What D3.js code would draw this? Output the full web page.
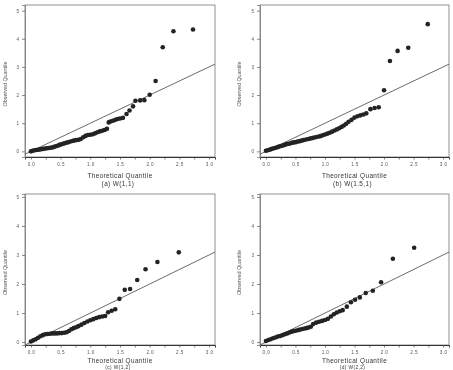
<!DOCTYPE html>
<html><head><meta charset="utf-8">
<script src="https://cdn.jsdelivr.net/npm/d3@7"></script>
<style>
html,body{margin:0;padding:0;background:#fff;}
svg{display:block;}
text{font-family:"Liberation Sans",Arial,sans-serif;}
</style></head>
<body>
<svg id="chart" width="453" height="370"></svg>
<script>
// ---- data ----
const xTickValues = [0, 0.5, 1.0, 1.5, 2.0, 2.5, 3.0];
const xTickLabels = ["0.0", "0.5", "1.0", "1.5", "2.0", "2.5", "3.0"];
const xMinorTicks = [0.25, 0.75, 1.25, 1.75, 2.25, 2.75];
const yTickValues = [0, 1, 2, 3, 4, 5];
const yTickLabels = ["0", "1", "2", "3", "4", "5"];
const xTitle = "Theoretical Quantile";
const yTitle = "Observed Quantile";
const subtitles = ["(a) W(1,1)", "(b) W(1.5,1)", "(c) W(1,2)", "(d) W(2,2)"];

const aTheoretical = [0.00,0.03,0.06,0.09,0.12,0.15,0.18,0.21,0.24,0.27,0.30,0.33,0.36,0.39,0.42,0.45,0.48,0.51,0.54,0.57,0.60,
  0.64,0.68,0.72,0.76,0.80,0.84,0.88,0.92,0.96,1.00,1.04,1.08,1.12,1.16,1.20,1.24,1.28,
  1.31,1.34,1.38,1.42,1.46,1.50,1.55,
  1.61,1.66,1.72,1.76,1.84,1.91,2.00,2.10,2.22,2.40,2.73];
const aObserved = [0.00,0.02,0.04,0.05,0.06,0.07,0.08,0.09,0.10,0.11,0.12,0.13,0.14,0.16,0.18,0.20,0.23,0.25,0.27,0.29,0.31,
  0.33,0.36,0.38,0.40,0.41,0.44,0.50,0.55,0.58,0.59,0.61,0.64,0.68,0.71,0.73,0.76,0.80,
  1.03,1.06,1.09,1.12,1.15,1.17,1.19,
  1.33,1.45,1.60,1.80,1.81,1.82,2.01,2.50,3.70,4.27,4.33];

const bTheoretical = [0.00,0.03,0.06,0.09,0.12,0.15,0.18,0.21,0.24,0.27,0.30,0.33,0.36,0.39,0.42,0.45,0.48,0.51,0.54,0.57,0.60,
  0.64,0.68,0.72,0.76,0.80,0.84,0.88,0.92,0.96,1.00,1.04,1.08,1.12,1.16,1.20,1.24,1.28,
  1.32,1.36,1.40,1.45,1.50,1.55,1.60,1.65,1.70,
  1.77,1.84,1.91,2.00,2.10,2.23,2.41,2.74];
const bObserved = [0.02,0.04,0.06,0.08,0.10,0.12,0.14,0.16,0.18,0.20,0.22,0.24,0.26,0.27,0.29,0.31,0.32,0.33,0.35,0.36,0.38,
  0.40,0.42,0.44,0.46,0.48,0.50,0.52,0.54,0.57,0.60,0.63,0.66,0.70,0.74,0.78,0.82,0.87,
  0.92,0.98,1.05,1.12,1.20,1.25,1.28,1.31,1.35,
  1.50,1.54,1.57,2.17,3.21,3.57,3.68,4.52];

const cTheoretical = [0.00,0.04,0.08,0.12,0.16,0.20,0.24,0.28,0.32,0.36,0.40,0.44,0.48,0.52,0.56,0.60,0.64,0.68,0.72,0.76,0.80,
  0.85,0.90,0.95,1.00,1.05,1.10,1.15,1.20,1.25,1.30,
  1.36,1.42,1.49,1.58,1.67,1.79,1.93,2.13,2.49];
const cObserved = [0.02,0.06,0.10,0.15,0.20,0.24,0.27,0.28,0.29,0.30,0.30,0.30,0.31,0.31,0.32,0.34,0.38,0.44,0.48,0.51,0.55,
  0.60,0.66,0.71,0.75,0.79,0.83,0.86,0.88,0.90,1.03,
  1.08,1.13,1.49,1.80,1.83,2.14,2.51,2.76,3.09];

const dTheoretical = [0.00,0.04,0.08,0.12,0.16,0.20,0.24,0.28,0.32,0.36,0.40,0.44,0.48,0.52,0.56,0.60,0.64,0.68,0.72,0.76,0.80,
  0.85,0.90,0.95,1.00,1.05,1.10,1.15,1.20,1.25,1.30,
  1.37,1.44,1.51,1.59,1.69,1.81,1.95,2.15,2.51];
const dObserved = [0.04,0.07,0.10,0.13,0.16,0.19,0.21,0.24,0.27,0.30,0.33,0.36,0.38,0.40,0.42,0.44,0.46,0.48,0.50,0.53,0.62,
  0.67,0.70,0.73,0.76,0.80,0.88,0.96,1.02,1.06,1.10,
  1.22,1.37,1.46,1.54,1.69,1.77,2.06,2.87,3.25];

const referenceLine = [-0.1, 3.1]; // y = x

// ---- layout ----
const panels = [
  {x: aTheoretical, y: aObserved, sub: subtitles[0], left: 25, right: 215, top: 5, bottom: 157, yDom: [-0.2, 5.2], ytx: 5, titleY: 178, subY: 185.5, subSize: 6.4},
  {x: bTheoretical, y: bObserved, sub: subtitles[1], left: 260, right: 449, top: 5, bottom: 157, yDom: [-0.2, 5.2], ytx: 239, titleY: 178, subY: 185.5, subSize: 6.4},
  {x: cTheoretical, y: cObserved, sub: subtitles[2], left: 25, right: 215, top: 194, bottom: 345, yDom: [-0.1, 5.1], ytx: 5, titleY: 363, subY: 369, subSize: 4.8},
  {x: dTheoretical, y: dObserved, sub: subtitles[3], left: 260, right: 449, top: 194, bottom: 345, yDom: [-0.1, 5.1], ytx: 239, titleY: 363, subY: 369, subSize: 4.8}
];

const svg = d3.select("#chart");
const root = svg.append("g").attr("opacity", 0.995);

panels.forEach((p, i) => {
  const xs = d3.scaleLinear().domain([-0.1, 3.1]).range([p.left, p.right]);
  const ys = d3.scaleLinear().domain(p.yDom).range([p.bottom, p.top]);
  const g = root.append("g");

  const clipId = "clip" + i;
  svg.append("clipPath").attr("id", clipId).append("rect")
    .attr("x", p.left).attr("y", p.top).attr("width", p.right - p.left).attr("height", p.bottom - p.top);

  // frame
  g.append("rect").attr("x", p.left).attr("y", p.top)
    .attr("width", p.right - p.left).attr("height", p.bottom - p.top)
    .attr("fill", "none").attr("stroke", "#777").attr("stroke-width", 0.8);

  // x axis
  const xa = g.append("g").attr("transform", `translate(0,${p.bottom})`)
    .call(d3.axisBottom(xs).tickValues(xTickValues.concat(xMinorTicks).sort((a,b)=>a-b))
      .tickSize(2.5).tickPadding(3)
      .tickFormat(d => { const k = xTickValues.indexOf(d); return k >= 0 ? xTickLabels[k] : ""; }));
  xa.select(".domain").attr("stroke", "#333").attr("stroke-width", 1);
  xa.selectAll(".tick line").attr("stroke", "#444").attr("stroke-width", 0.7);
  xa.selectAll(".tick text").attr("font-size", 4.6).attr("fill", "#555")
    .attr("letter-spacing", 0.4).attr("font-family", "Liberation Sans, Arial, sans-serif");

  // y axis
  const ya = g.append("g").attr("transform", `translate(${p.left},0)`)
    .call(d3.axisLeft(ys).tickValues(yTickValues).tickSize(3).tickPadding(3)
      .tickFormat((d, k) => yTickLabels[k]));
  ya.select(".domain").attr("stroke", "#777").attr("stroke-width", 0.8);
  ya.selectAll(".tick line").attr("stroke", "#555").attr("stroke-width", 0.7);
  ya.selectAll(".tick text").attr("font-size", 4.6).attr("fill", "#555")
    .attr("font-family", "Liberation Sans, Arial, sans-serif");

  // reference line y = x
  g.append("line").attr("clip-path", `url(#${clipId})`)
    .attr("x1", xs(referenceLine[0])).attr("y1", ys(referenceLine[0]))
    .attr("x2", xs(referenceLine[1])).attr("y2", ys(referenceLine[1]))
    .attr("stroke", "#444").attr("stroke-width", 0.8);

  // points
  g.append("g").attr("clip-path", `url(#${clipId})`).selectAll("circle")
    .data(d3.zip(p.x, p.y)).join("circle")
    .attr("cx", d => xs(d[0])).attr("cy", d => ys(d[1])).attr("r", 2.3)
    .attr("fill", "#222");

  // titles
  const cx = (p.left + p.right) / 2;
  g.append("text").attr("x", cx).attr("y", p.titleY).attr("text-anchor", "middle")
    .attr("font-size", 6.4).attr("letter-spacing", 0.4).attr("fill", "#333").text(xTitle);
  g.append("text").attr("x", cx - 2).attr("y", p.subY).attr("text-anchor", "middle")
    .attr("font-size", p.subSize).attr("letter-spacing", 0.4).attr("fill", "#333").text(p.sub);
  const cy = (p.top + p.bottom) / 2 + 3;
  g.append("text").attr("transform", `translate(${p.ytx + 2},${cy}) rotate(-90)`)
    .attr("text-anchor", "middle").attr("font-size", 5.4).attr("fill", "#555").text(yTitle);
});
</script>
</body></html>
